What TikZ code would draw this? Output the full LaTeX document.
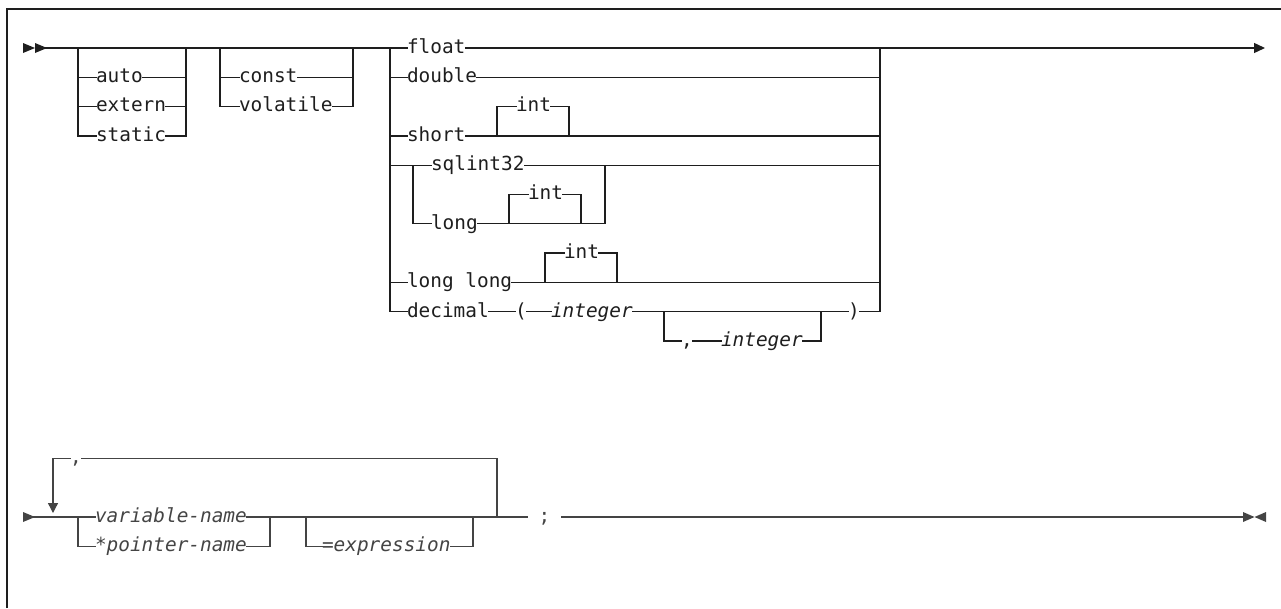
\documentclass[tikz,border=0pt]{standalone}
\usepackage{fontspec}
\newfontfamily\kwfont{DejaVu Sans Mono}[Scale=1]
\usetikzlibrary{arrows.meta}
\definecolor{ink}{HTML}{1E1E1E}
\definecolor{inkb}{HTML}{444444}
\begin{document}
\begin{tikzpicture}[x=1pt,y=-1pt,
  ln/.style={line width=1.3pt, line cap=rect},
  kw/.style={inner sep=0pt, outer sep=0pt, anchor=west, text height=10.6pt, text depth=0pt, font=\kwfont\fontsize{19.4pt}{22pt}\selectfont},
  vtxt/.style={kw, font=\kwfont\itshape\fontsize{19.4pt}{22pt}\selectfont},
  tipR/.style={-{Triangle[width=10pt,length=11pt]}},
  tipD/.style={-{Triangle[width=10pt,length=10pt]}}]
\useasboundingbox (0,0) rectangle (1281,608);
% frame
\draw[ink, line width=1.5pt] (7,608) -- (7,9) -- (1281,9);

\begin{scope}[ink, every path/.append style={ln}]
% start double arrow
\fill (23,43) -- (35,48) -- (23,53) -- cycle;
\fill (35,43) -- (47,48) -- (35,53) -- cycle;
\coordinate (s1) at (46,48);
% storage class
\coordinate (b1L) at (78,48);
\coordinate (b1R) at (186,48);
\node[kw] (auto) at (96,77.3) {auto};
\node[kw] (extern) at (96,106.6) {extern};
\node[kw] (static) at (96,135.9) {static};
\draw (b1L) |- (static.west);
\draw (b1L |- auto.west) -- (auto.west);
\draw (b1L |- extern.west) -- (extern.west);
\draw (auto.east) -- (b1R |- auto.east);
\draw (extern.east) -- (b1R |- extern.east);
\draw (static.east) -| (b1R);
% qualifiers
\coordinate (b2L) at (220,48);
\coordinate (b2R) at (353,48);
\node[kw] (const) at (239,77.3) {const};
\node[kw] (volatile) at (239,106.6) {volatile};
\draw (b2L) |- (volatile.west);
\draw (b2L |- const.west) -- (const.west);
\draw (const.east) -- (b2R |- const.east);
\draw (volatile.east) -| (b2R);
% types
\coordinate (tL) at (390,48);
\coordinate (tR) at (880,48);
\node[kw] (float) at (407,48) {float};
\node[kw] (double) at (407,77.3) {double};
\node[kw] (short) at (407,135.9) {short};
\node[kw] (sqlint) at (431,165.2) {sqlint32};
\node[kw] (long) at (431,223.8) {long};
\node[kw] (longlong) at (407,282.4) {long long};
\node[kw] (decimal) at (407,311.7) {decimal};
\draw (s1) -- (float.west);
\draw[tipR] (float.east) -- (1265,48);
\draw (tL) |- (decimal.west);
\draw (tL |- double.west) -- (double.west);
\draw (tL |- short.west) -- (short.west);
\draw (tL |- sqlint.west) -- (sqlint.west);
\draw (tL |- longlong.west) -- (longlong.west);
\draw (double.east) -- (tR |- double.east);
\draw (short.east) -- (tR |- short.east);
\draw (sqlint.east) -- (tR |- sqlint.east);
\draw (longlong.east) -- (tR |- longlong.east);
% int after short
\coordinate (i1L) at (497,135.9);
\coordinate (i1R) at (569,135.9);
\node[kw] (int1) at (516,106.6) {int};
\draw (i1L) |- (int1.west);
\draw (int1.east) -| (i1R);
% sqlint32 / long
\coordinate (sL) at (413,165.2);
\coordinate (sR) at (605,165.2);
\draw (sL) |- (long.west);
\draw (long.east) -| (sR);
\coordinate (i2L) at (509,223.8);
\coordinate (i2R) at (581,223.8);
\node[kw] (int2) at (528,194.5) {int};
\draw (i2L) |- (int2.west);
\draw (int2.east) -| (i2R);
% long long int
\coordinate (i3L) at (545,282.4);
\coordinate (i3R) at (617,282.4);
\node[kw] (int3) at (564,253.1) {int};
\draw (i3L) |- (int3.west);
\draw (int3.east) -| (i3R);
% decimal
\node[kw] (lparen) at (515,311.7) {(};
\node[vtxt] (integer1) at (551,311.7) {integer};
\node[kw] (rparen) at (848,311.7) {)};
\coordinate (dL) at (664,311.7);
\coordinate (dR) at (821,311.7);
\node[kw] (comma1) at (681,341) {,};
\node[vtxt] (integer2) at (721,341) {integer};
\draw (decimal.east) -- (lparen.west);
\draw (lparen.east) -- (integer1.west);
\draw (integer1.east) -- (rparen.west);
\draw (rparen.east) -| (tR);
\draw (dL) |- (comma1.west);
\draw (comma1.east) -- (integer2.west);
\draw (integer2.east) -| (dR);
\end{scope}

\begin{scope}[inkb, every path/.append style={ln}]
\fill (23,512) -- (35,517) -- (23,522) -- cycle;
\coordinate (s2) at (34,517);
\coordinate (vL) at (78,517);
\coordinate (vR) at (270,517);
\node[vtxt] (varname) at (95,517) {variable-name};
\node[vtxt] (ptrname) at (95,546.3) {*pointer-name};
\coordinate (eL) at (306,517);
\coordinate (eR) at (473,517);
\node[vtxt] (expr) at (322,546.3) {=expression};
\coordinate (lpR) at (497,517);
\node[kw] (comma3) at (70,458.4) {,};
\node[kw] (semi) at (527,517) {\hphantom{0};\hphantom{0}};
\coordinate (bt) at (1243,517);
\draw (s2) -- (varname.west);
\draw (vL) |- (ptrname.west);
\draw (ptrname.east) -| (vR);
\draw (varname.east) -- (semi.west);
\draw (eL) |- (expr.west);
\draw (expr.east) -| (eR);
\draw (lpR) |- (comma3.east);
\draw[tipD] (comma3.west) -| (53,513);
\draw (semi.east) -- (bt);
\fill (1243,512) -- (1254.5,517) -- (1243,522) -- cycle;
\fill (1266,512) -- (1254.5,517) -- (1266,522) -- cycle;
\end{scope}
\end{tikzpicture}
\end{document}
